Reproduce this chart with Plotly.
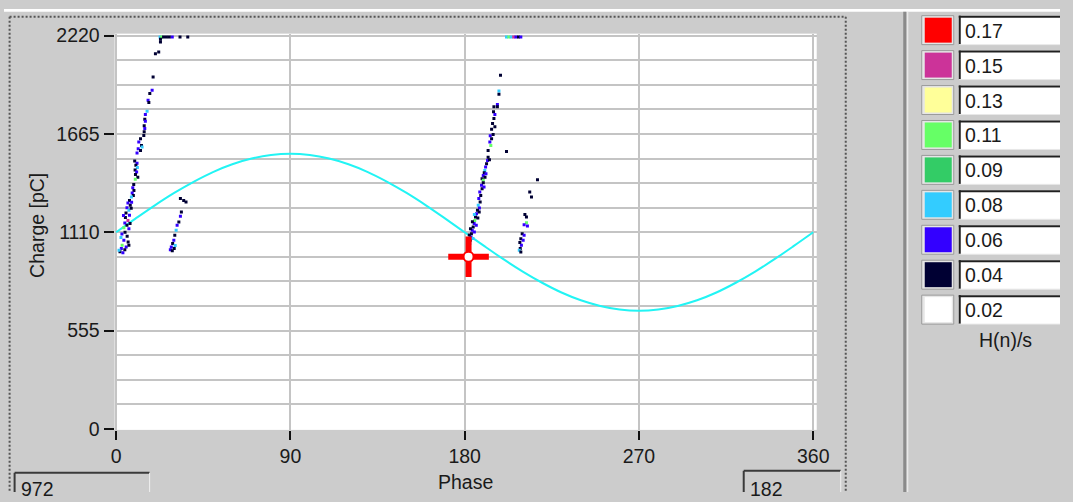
import plotly.graph_objects as go

W, H = 1073, 502

# window placement of the figure as it appears on screen (offset and scale)
VIEW_X0, VIEW_Y0 = 4.4, 8.3
VIEW_SX, VIEW_SY = 0.984, 0.964

# H(n)/s scale of the pulse-rate colouring
rate_levels = [0.17, 0.15, 0.13, 0.11, 0.09, 0.08, 0.06, 0.04, 0.02]
rate_labels = ["0.17", "0.15", "0.13", "0.11", "0.09", "0.08", "0.06", "0.04", "0.02"]
rate_colors = ["#ff0000", "#cc3399", "#ffff99", "#66ff66", "#33cc66",
               "#33ccff", "#3300ff", "#000033", "#ffffff"]

# test-voltage reference trace (scaled to charge axis)
ref_phase = list(range(0, 361, 10))
ref_charge = [1110, 1187, 1262, 1332, 1395, 1450, 1494, 1526, 1546, 1553,
              1546, 1526, 1494, 1450, 1395, 1332, 1262, 1187, 1110, 1033,
              958, 888, 825, 770, 726, 694, 674, 667, 674, 694,
              726, 770, 825, 888, 958, 1033, 1110]

# partial-discharge pulses: phase [deg], charge [pC], rate H(n)/s
pd_phase = [
    22.7, 23.5, 24.5, 26.0, 27.5, 29.0, 33.0, 37.0,
    22.9, 22.9, 20.3, 22.0, 19.1, 18.6, 17.4, 16.5, 16.9, 16.0, 15.1, 14.8, 15.1, 14.5, 14.8, 14.5,
    14.3, 12.6, 11.7, 13.1, 11.4, 12.6, 10.8, 13.4,
    9.6, 10.8, 10.2, 11.0, 9.8, 10.6, 10.0, 11.2, 9.9,
    9.1, 8.6, 9.2, 8.3, 8.9, 7.9,
    6.9, 6.1, 7.3, 5.6, 6.6, 5.1, 6.9, 4.8, 6.1, 4.5, 5.6, 4.0, 6.6,
    5.7, 4.0, 6.2, 3.1, 5.2, 4.5, 2.7, 6.6, 2.0, 3.5, 1.5,
    3.0, 4.6, 2.5, 7.2, 3.8, 7.8, 8.0,
    33.2, 34.9, 36.1, 33.7, 33.2, 32.4, 31.5, 31.0, 30.3, 29.8, 29.2, 28.5, 30.0, 28.0, 29.0, 30.5,
    201.6, 202.8, 204.0, 205.3, 206.5, 207.8, 209.0,
    198.5, 197.7, 197.7, 196.9, 196.9, 195.1, 194.9, 195.6, 195.1, 194.4, 195.6, 193.9, 193.2, 194.7,
    193.9, 193.0, 192.1, 193.5, 201.6,
    192.1, 191.8, 191.3, 190.8, 190.4, 190.1, 189.6, 189.0, 189.6,
    188.7, 189.0, 187.8, 188.3, 187.3, 188.0, 187.0, 187.6, 186.6,
    217.6, 213.6, 214.5,
    186.1, 185.6, 185.2, 184.9, 184.4, 183.9, 183.5, 183.2, 182.9, 182.6, 182.3, 181.8,
    187.5, 185.0, 186.8, 184.0, 186.0, 183.0, 185.0, 182.4, 184.3, 190.5, 191.0, 192.8, 189.6, 190.0,
    211.1, 211.9, 211.9, 210.7, 212.4, 209.7, 210.7, 209.0, 210.2, 208.5, 209.3, 208.7, 208.2, 209.0,
]
pd_charge = [
    2212, 2212, 2212, 2212, 2212, 2212, 2212, 2212,
    2200, 2184, 2118, 2128, 1987, 1912, 1893, 1855, 1842, 1793, 1775, 1748, 1737, 1711, 1696, 1677,
    1656, 1638, 1619, 1600, 1581, 1572, 1557, 1591,
    1512, 1500, 1488, 1475, 1462, 1450, 1436, 1421, 1410,
    1380, 1362, 1346, 1331, 1318, 1309,
    1290, 1275, 1262, 1249, 1234, 1219, 1206, 1193, 1177, 1162, 1149, 1136, 1130,
    1087, 1065, 1055, 1037, 1027, 1012, 1018, 1037, 1000, 995, 1008,
    1100, 1110, 1080, 1160, 1205, 1245, 1280,
    1300, 1290, 1281, 1224, 1200, 1168, 1149, 1121, 1093, 1065, 1046, 1027, 1018, 1012, 1005, 1035,
    2212, 2212, 2212, 2212, 2212, 2212, 2212,
    1996, 1908, 1889, 1831, 1818, 1818, 1790, 1775, 1752, 1724, 1705, 1692, 1655, 1662,
    1638, 1619, 1572, 1600, 1566,
    1534, 1515, 1497, 1478, 1459, 1446, 1431, 1412, 1403,
    1375, 1356, 1337, 1318, 1300, 1281, 1262, 1247, 1234,
    1406, 1337, 1309,
    1215, 1196, 1177, 1159, 1140, 1121, 1102, 1083, 1065, 1046, 1027, 1008,
    1225, 1210, 1190, 1170, 1150, 1130, 1112, 1095, 1075, 1420, 1440, 1520, 1390, 1366,
    1210, 1196, 1164, 1153, 1145, 1102, 1093, 1074, 1065, 1052, 1037, 1018, 1008, 999,
]
pd_rate = [
    0.08, 0.11, 0.04, 0.04, 0.04, 0.06, 0.04, 0.04,
    0.04, 0.04, 0.04, 0.04, 0.04, 0.06, 0.04, 0.06, 0.04, 0.08, 0.06, 0.04, 0.06, 0.04, 0.06, 0.04,
    0.04, 0.04, 0.06, 0.04, 0.06, 0.04, 0.06, 0.08,
    0.04, 0.06, 0.04, 0.08, 0.04, 0.06, 0.04, 0.04, 0.11,
    0.04, 0.06, 0.04, 0.06, 0.04, 0.08,
    0.04, 0.06, 0.04, 0.06, 0.08, 0.04, 0.06, 0.04, 0.15, 0.06, 0.04, 0.11, 0.06,
    0.04, 0.06, 0.04, 0.11, 0.06, 0.04, 0.06, 0.04, 0.04, 0.06, 0.08,
    0.06, 0.04, 0.08, 0.04, 0.06, 0.04, 0.06,
    0.04, 0.04, 0.04, 0.04, 0.06, 0.04, 0.06, 0.08, 0.04, 0.06, 0.04, 0.06, 0.04, 0.06, 0.04, 0.08,
    0.08, 0.11, 0.08, 0.15, 0.06, 0.04, 0.06,
    0.04, 0.08, 0.04, 0.06, 0.04, 0.04, 0.04, 0.06, 0.04, 0.04, 0.04, 0.04, 0.06, 0.04,
    0.04, 0.06, 0.04, 0.11, 0.04,
    0.04, 0.06, 0.04, 0.06, 0.08, 0.04, 0.06, 0.04, 0.11,
    0.06, 0.04, 0.06, 0.04, 0.06, 0.04, 0.08, 0.06, 0.04,
    0.04, 0.04, 0.04,
    0.06, 0.04, 0.11, 0.06, 0.04, 0.06, 0.04, 0.06, 0.04, 0.06, 0.04, 0.04,
    0.04, 0.08, 0.04, 0.04, 0.06, 0.04, 0.06, 0.04, 0.08, 0.04, 0.06, 0.04, 0.04, 0.06,
    0.04, 0.04, 0.11, 0.06, 0.06, 0.04, 0.06, 0.04, 0.06, 0.04, 0.06, 0.04, 0.08, 0.04,
]

# cursor readout
cursor_phase = [182]
cursor_charge = [972]

x_ticks = [0, 90, 180, 270, 360]
y_ticks = [0, 555, 1110, 1665, 2220]
y_minor_step = 138.75

FONT = "Liberation Sans, Arial, sans-serif"
FS = 19.5
TXT = "#1a1a1a"
BG = "#cccccc"
GRID = "#c4c4c4"


def px(x):
    """screen pixel column -> paper fraction"""
    return min(max((x - VIEW_X0) / VIEW_SX / W, 0.0), 1.0)


def py(y):
    """screen pixel row -> paper fraction"""
    return min(max(1 - (y - VIEW_Y0) / VIEW_SY / H, 0.0), 1.0)


def xrange_for(x_left, x_right, v_left, v_right, dom):
    """axis range so that value v_left sits at screen column x_left, v_right at x_right"""
    p0, p1 = px(x_left), px(x_right)
    k = (v_right - v_left) / (p1 - p0)
    return [v_left + (dom[0] - p0) * k, v_left + (dom[1] - p0) * k]


def yrange_for(y_low, y_high, v_low, v_high, dom):
    p0, p1 = py(y_low), py(y_high)
    k = (v_high - v_low) / (p1 - p0)
    return [v_low + (dom[0] - p0) * k, v_low + (dom[1] - p0) * k]


color_of = dict(zip(rate_levels, rate_colors))
pd_colors = [color_of[r] for r in pd_rate]

fig = go.Figure()

fig.add_trace(go.Scatter(
    x=ref_phase, y=ref_charge, mode="lines",
    line=dict(color="#22f4f4", width=2, shape="spline"),
    hoverinfo="skip", showlegend=False,
))

fig.add_trace(go.Scatter(
    x=pd_phase, y=pd_charge, mode="markers",
    marker=dict(symbol="square", size=3, color=pd_colors, line=dict(width=0)),
    showlegend=False,
))

fig.add_trace(go.Scatter(
    x=cursor_phase, y=cursor_charge, mode="markers",
    marker=dict(symbol="cross-thin", size=29, color="#ff0000",
                line=dict(color="#ff0000", width=6)),
    showlegend=False,
))
fig.add_trace(go.Scatter(
    x=cursor_phase, y=cursor_charge, mode="markers",
    marker=dict(symbol="circle", size=10, color="#ffffff",
                line=dict(color="#ff0000", width=2)),
    showlegend=False,
))

shapes = []
annotations = []

# window chrome: top strip, dotted panel frame, splitter
shapes.append(dict(type="rect", xref="paper", yref="paper",
                   x0=0, x1=1, y0=py(11), y1=1,
                   fillcolor="#ffffff", line=dict(width=0)))
dotted = dict(color="#555555", width=2, dash="2px,2px")
shapes.append(dict(type="line", xref="paper", yref="paper",
                   x0=px(10), x1=px(846), y0=py(16), y1=py(16), line=dotted))
shapes.append(dict(type="line", xref="paper", yref="paper",
                   x0=px(10), x1=px(10), y0=py(16), y1=0, line=dotted))
shapes.append(dict(type="line", xref="paper", yref="paper",
                   x0=px(846), x1=px(846), y0=py(16), y1=0, line=dotted))
shapes.append(dict(type="line", xref="paper", yref="paper",
                   x0=px(905), x1=px(905), y0=py(11), y1=0,
                   line=dict(color="#8a8a8a", width=3)))
shapes.append(dict(type="line", xref="paper", yref="paper",
                   x0=px(908), x1=px(908), y0=py(11), y1=0,
                   line=dict(color="#f2f2f2", width=1)))

# colour scale swatches and value boxes
for i, (lab, col) in enumerate(zip(rate_labels, rate_colors)):
    top = 15 + 35 * i
    bot = top + 29
    shapes.append(dict(type="rect", xref="paper", yref="paper",
                       x0=px(922), x1=px(954), y0=py(bot), y1=py(top),
                       fillcolor="#e6e6e6", line=dict(color="#9a9a9a", width=1)))
    shapes.append(dict(type="rect", xref="paper", yref="paper",
                       x0=px(925), x1=px(952), y0=py(bot - 2), y1=py(top + 2),
                       fillcolor=col, line=dict(width=0)))
    shapes.append(dict(type="rect", xref="paper", yref="paper",
                       x0=px(959), x1=1, y0=py(bot), y1=py(top),
                       fillcolor="#ffffff", line=dict(width=0)))
    shapes.append(dict(type="line", xref="paper", yref="paper",
                       x0=px(959), x1=1, y0=py(top + 1), y1=py(top + 1),
                       line=dict(color="#202020", width=2)))
    shapes.append(dict(type="line", xref="paper", yref="paper",
                       x0=px(960), x1=px(960), y0=py(bot), y1=py(top),
                       line=dict(color="#202020", width=2)))
    shapes.append(dict(type="line", xref="paper", yref="paper",
                       x0=px(959), x1=1, y0=py(bot), y1=py(bot),
                       line=dict(color="#e8e8e8", width=1)))
    annotations.append(dict(xref="paper", yref="paper", x=px(963), y=py(top + 15),
                            text=lab, showarrow=False, xanchor="left", yanchor="middle",
                            font=dict(family=FONT, size=FS, color=TXT)))

annotations.append(dict(xref="paper", yref="paper", x=px(1006), y=py(340),
                        text="H(n)/s", showarrow=False, xanchor="center", yanchor="middle",
                        font=dict(family=FONT, size=FS, color=TXT)))

# cursor readout boxes
for (x0, x1, y0, val) in [(15, 150, 473, cursor_charge[0]), (744, 841, 471, cursor_phase[0])]:
    shapes.append(dict(type="line", xref="paper", yref="paper",
                       x0=px(x0), x1=px(x1), y0=py(y0), y1=py(y0),
                       line=dict(color="#3a3a3a", width=2)))
    shapes.append(dict(type="line", xref="paper", yref="paper",
                       x0=px(x0), x1=px(x0), y0=py(y0), y1=0,
                       line=dict(color="#3a3a3a", width=2)))
    shapes.append(dict(type="line", xref="paper", yref="paper",
                       x0=px(x1), x1=px(x1), y0=py(y0), y1=0,
                       line=dict(color="#f0f0f0", width=1)))
    annotations.append(dict(xref="paper", yref="paper", x=px(x0 + 4), y=py(489),
                            text=str(val), showarrow=False, xanchor="left", yanchor="middle",
                            font=dict(family=FONT, size=FS, color=TXT)))

# axis titles
annotations.append(dict(xref="paper", yref="paper", x=px(466), y=py(482),
                        text="Phase", showarrow=False, xanchor="center", yanchor="middle",
                        font=dict(family=FONT, size=FS, color=TXT)))
annotations.append(dict(xref="paper", yref="paper", x=px(38), y=py(225),
                        text="Charge [pC]", showarrow=False, textangle=-90,
                        xanchor="center", yanchor="middle",
                        font=dict(family=FONT, size=FS, color=TXT)))

x_dom = [px(115), px(817)]
y_dom = [py(430), py(33)]

fig.update_layout(
    width=W, height=H,
    margin=dict(l=0, r=0, t=0, b=0),
    paper_bgcolor=BG, plot_bgcolor="#ffffff",
    showlegend=False,
    shapes=shapes, annotations=annotations,
    xaxis=dict(
        domain=x_dom, range=xrange_for(116.5, 813.5, 0, 360, x_dom),
        tickvals=x_ticks, ticktext=[str(v) for v in x_ticks],
        ticks="outside", ticklen=9, tickwidth=2, tickcolor="#111111",
        showgrid=True, gridcolor=GRID, gridwidth=2,
        zeroline=False, showline=False,
        tickfont=dict(family=FONT, size=FS, color=TXT),
    ),
    yaxis=dict(
        domain=y_dom, range=yrange_for(429, 35, 0, 2220, y_dom),
        tickvals=y_ticks, ticktext=[str(v) for v in y_ticks],
        ticks="outside", ticklen=10, tickwidth=2, tickcolor="#111111",
        showgrid=True, gridcolor=GRID, gridwidth=2,
        minor=dict(dtick=y_minor_step, tick0=0, showgrid=True,
                   gridcolor=GRID, gridwidth=2, ticks=""),
        zeroline=False, showline=False,
        tickfont=dict(family=FONT, size=FS, color=TXT),
    ),
)

fig.write_html("out.html", config={"displayModeBar": False},
               post_script="document.body.style.background='#cccccc';")
